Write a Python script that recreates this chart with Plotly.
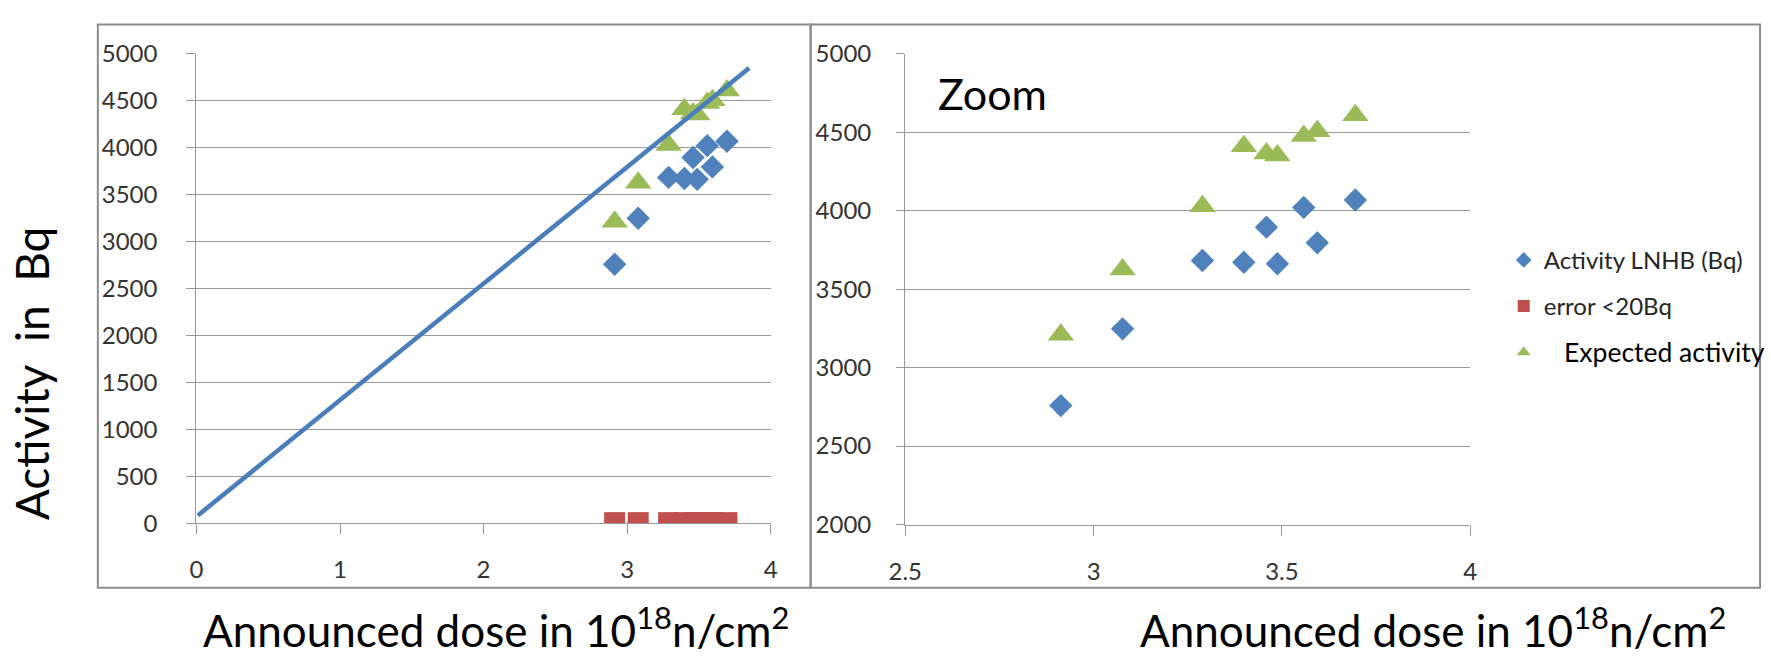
import plotly.graph_objects as go

# ---- data ----
dose = [2.913, 3.077, 3.289, 3.399, 3.459, 3.488, 3.558, 3.594, 3.695]
activity_lnhb = [2758, 3247, 3683, 3671, 3895, 3662, 4021, 3795, 4068]
error_bq = [5, 5, 5, 5, 5, 5, 5, 5, 5]
expected_activity = [3210, 3625, 4028, 4410, 4364, 4352, 4476, 4506, 4608]
line_x = [0.01, 3.85]
line_y = [82, 4849]

left_xticks = [0, 1, 2, 3, 4]
left_yticks = [0, 500, 1000, 1500, 2000, 2500, 3000, 3500, 4000, 4500, 5000]
right_xticks = [2.5, 3, 3.5, 4]
right_yticks = [2000, 2500, 3000, 3500, 4000, 4500, 5000]

BLUE = "#4F81BD"
RED = "#C0504D"
GREEN = "#9BBB59"
LINE = "#4A7EBB"
GRID = "#999999"
TICKC = "#333333"
FONT = "Lato"

W, H = 1771, 658

def px_x(p):
    return p / W

def px_y(p):
    return (H - p) / H

fig = go.Figure()

# ---- left panel ----
fig.add_trace(go.Scatter(x=dose, y=error_bq, mode="markers", xaxis="x", yaxis="y",
                         marker=dict(symbol="square", size=21, color=RED, line=dict(width=0)),
                         showlegend=False, name="error <20Bq"))
fig.add_trace(go.Scatter(x=dose, y=activity_lnhb, mode="markers", xaxis="x", yaxis="y",
                         marker=dict(symbol="diamond", size=18, color=BLUE, line=dict(width=0)),
                         showlegend=False, name="Activity LNHB (Bq)"))
fig.add_trace(go.Scatter(x=dose, y=expected_activity, mode="markers", xaxis="x", yaxis="y",
                         marker=dict(symbol="triangle-up", size=23, color=GREEN, line=dict(width=0)),
                         showlegend=False, name="Expected activity"))
fig.add_trace(go.Scatter(x=line_x, y=line_y, mode="lines", xaxis="x", yaxis="y",
                         line=dict(color=LINE, width=4.5), showlegend=False, name="trend"))

# ---- right panel (zoom) ----
fig.add_trace(go.Scatter(x=dose, y=activity_lnhb, mode="markers", xaxis="x2", yaxis="y2",
                         marker=dict(symbol="diamond", size=18, color=BLUE, line=dict(width=0)),
                         name="Activity LNHB (Bq)", legendgroup="a"))
fig.add_trace(go.Scatter(x=dose, y=error_bq, mode="markers", xaxis="x2", yaxis="y2",
                         marker=dict(symbol="square", size=21, color=RED, line=dict(width=0)),
                         name="error <20Bq", legendgroup="b"))
fig.add_trace(go.Scatter(x=dose, y=expected_activity, mode="markers", xaxis="x2", yaxis="y2",
                         marker=dict(symbol="triangle-up", size=23, color=GREEN, line=dict(width=0)),
                         name="<span style='color:#000000;font-size:26.5px'>\u00a0\u00a0\u00a0Expected activity</span>",
                         legendgroup="c"))

axis_common = dict(showline=True, linecolor=GRID, linewidth=1.4, ticks="outside",
                   tickcolor=GRID, tickwidth=1.4, zeroline=False,
                   tickfont=dict(family=FONT, size=24, color=TICKC))

fig.update_layout(
    width=W, height=H,
    margin=dict(l=0, r=0, t=0, b=0),
    paper_bgcolor="white", plot_bgcolor="white",
    font=dict(family=FONT, color="#000000"),
    xaxis=dict(domain=[px_x(182), px_x(764.5)], range=[0, 4], tickvals=left_xticks,
               showgrid=False, anchor="y", ticklen=10, ticklabelstandoff=15, **axis_common),
    yaxis=dict(domain=[px_y(530.5), px_y(39.5)], range=[0, 5000], tickvals=left_yticks,
               showgrid=True, gridcolor=GRID, gridwidth=1.4, anchor="x", ticklen=9,
               ticklabelstandoff=24, **axis_common),
    xaxis2=dict(domain=[px_x(901), px_x(1474)], range=[2.5, 4], tickvals=right_xticks,
                showgrid=False, anchor="y2", ticklen=10, ticklabelstandoff=15, **axis_common),
    yaxis2=dict(domain=[px_y(532), px_y(39.5)], range=[2000, 5000], tickvals=right_yticks,
                showgrid=True, gridcolor=GRID, gridwidth=1.4, anchor="x2", ticklen=8,
                ticklabelstandoff=20, **axis_common),
    legend=dict(x=px_x(1508), xanchor="left", y=px_y(232), yanchor="top",
                bgcolor="rgba(255,255,255,0)", borderwidth=0,
                font=dict(family=FONT, size=24, color="#262626"),
                traceorder="grouped", tracegroupgap=12, itemsizing="constant"),
    shapes=[
        dict(type="rect", xref="paper", yref="paper", x0=px_x(82), x1=px_x(805),
             y0=px_y(598), y1=px_y(9), line=dict(color="#8c8c8c", width=2), layer="below"),
        dict(type="rect", xref="paper", yref="paper", x0=px_x(805), x1=px_x(1768),
             y0=px_y(598), y1=px_y(9), line=dict(color="#8c8c8c", width=2), layer="below"),
    ],
    annotations=[
        dict(text="Announced dose in 10<sup>18</sup>n/cm<sup>2</sup>", xref="paper", yref="paper",
             x=px_x(486), y=px_y(640), xanchor="center", yanchor="middle", showarrow=False,
             font=dict(family=FONT, size=44, color="#000000")),
        dict(text="Announced dose in 10<sup>18</sup>n/cm<sup>2</sup>", xref="paper", yref="paper",
             x=px_x(1436), y=px_y(640), xanchor="center", yanchor="middle", showarrow=False,
             font=dict(family=FONT, size=44, color="#000000")),
        dict(text="Activity\u00a0\u00a0in\u00a0\u00a0Bq", xref="paper", yref="paper",
             x=px_x(15), y=px_y(374), xanchor="center", yanchor="middle", textangle=-90,
             showarrow=False, font=dict(family=FONT, size=46, color="#000000")),
        dict(text="Zoom", xref="paper", yref="paper",
             x=px_x(932), y=px_y(81), xanchor="left", yanchor="middle", showarrow=False,
             font=dict(family=FONT, size=43, color="#000000")),
    ],
)

fig.write_html("out.html")
